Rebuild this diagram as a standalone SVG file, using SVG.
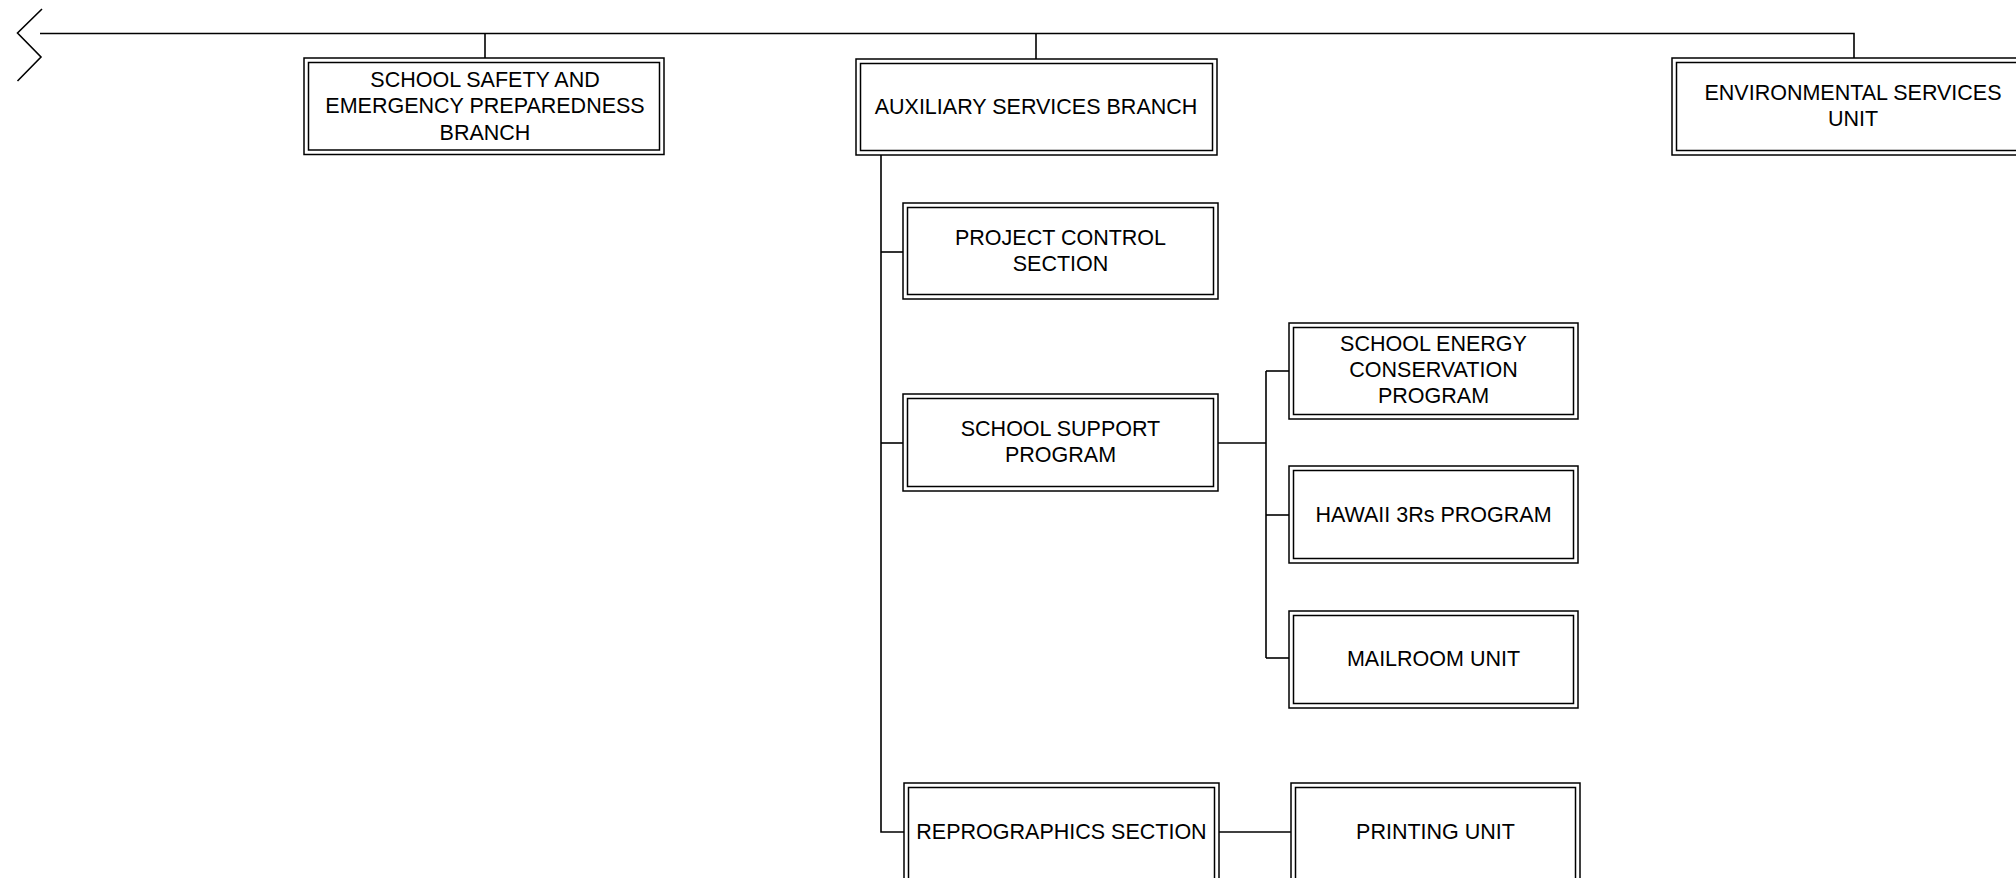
<svg xmlns="http://www.w3.org/2000/svg" width="2016" height="878" viewBox="0 0 2016 878">
<style>
.o{fill:#fff;stroke:#000;stroke-width:1.5}
.i{fill:none;stroke:#000;stroke-width:1.5}
.c{fill:none;stroke:#000;stroke-width:1.6}
text{font-family:"Liberation Sans",Arial,sans-serif;font-size:21.5px;fill:#000;text-anchor:middle}
</style>
<rect width="2016" height="878" fill="#fff"/>
<g id="connectors">
<path class="c" d="M42,9 L17.5,33 L41,57 L17.5,81" stroke-width="2"/>
<path class="c" d="M40,33.5 H1854 V58"/>
<path class="c" d="M485,33.5 V58"/>
<path class="c" d="M1036,33.5 V59"/>
<path class="c" d="M881,155 V832 H904"/>
<path class="c" d="M881,252 H903"/>
<path class="c" d="M881,443 H903"/>
<path class="c" d="M1218,443 H1266"/>
<path class="c" d="M1266,371 V658"/>
<path class="c" d="M1266,371 H1289"/>
<path class="c" d="M1266,515 H1289"/>
<path class="c" d="M1266,658 H1289"/>
<path class="c" d="M1219,832 H1291" stroke-width="2.4"/>
</g>
<g id="ssep">
<rect class="o" x="304" y="58" width="360" height="96.5"/>
<rect class="i" x="308.5" y="62.5" width="351" height="87.5"/>
<text x="485" y="87">SCHOOL SAFETY AND</text>
<text x="485" y="113">EMERGENCY PREPAREDNESS</text>
<text x="485" y="139.5">BRANCH</text>
</g>
<g id="aux">
<rect class="o" x="856" y="59" width="361" height="96"/>
<rect class="i" x="860.5" y="63.5" width="352" height="87"/>
<text x="1036" y="114">AUXILIARY SERVICES BRANCH</text>
</g>
<g id="env">
<rect class="o" x="1672" y="58" width="362" height="97"/>
<rect class="i" x="1676.5" y="62.5" width="353" height="88"/>
<text x="1853" y="100">ENVIRONMENTAL SERVICES</text>
<text x="1853" y="126">UNIT</text>
</g>
<g id="pcs">
<rect class="o" x="903" y="203" width="315" height="96"/>
<rect class="i" x="907.5" y="207.5" width="306" height="87"/>
<text x="1060.5" y="245">PROJECT CONTROL</text>
<text x="1060.5" y="271">SECTION</text>
</g>
<g id="ssp">
<rect class="o" x="903" y="394" width="315" height="97"/>
<rect class="i" x="907.5" y="398.5" width="306" height="88"/>
<text x="1060.5" y="436">SCHOOL SUPPORT</text>
<text x="1060.5" y="462">PROGRAM</text>
</g>
<g id="secp">
<rect class="o" x="1289" y="323" width="289" height="96"/>
<rect class="i" x="1293.5" y="327.5" width="280" height="87"/>
<text x="1433.5" y="351">SCHOOL ENERGY</text>
<text x="1433.5" y="377">CONSERVATION</text>
<text x="1433.5" y="403">PROGRAM</text>
</g>
<g id="hawaii">
<rect class="o" x="1289" y="466" width="289" height="97"/>
<rect class="i" x="1293.5" y="470.5" width="280" height="88"/>
<text x="1433.5" y="522">HAWAII 3Rs PROGRAM</text>
</g>
<g id="mailroom">
<rect class="o" x="1289" y="611" width="289" height="97"/>
<rect class="i" x="1293.5" y="615.5" width="280" height="88"/>
<text x="1433.5" y="666">MAILROOM UNIT</text>
</g>
<g id="repro">
<rect class="o" x="904" y="783" width="315" height="100"/>
<rect class="i" x="908.5" y="787.5" width="306" height="100"/>
<text x="1061.5" y="839">REPROGRAPHICS SECTION</text>
</g>
<g id="printing">
<rect class="o" x="1291" y="783" width="289" height="100"/>
<rect class="i" x="1295.5" y="787.5" width="280" height="100"/>
<text x="1435.5" y="839">PRINTING UNIT</text>
</g>
</svg>
